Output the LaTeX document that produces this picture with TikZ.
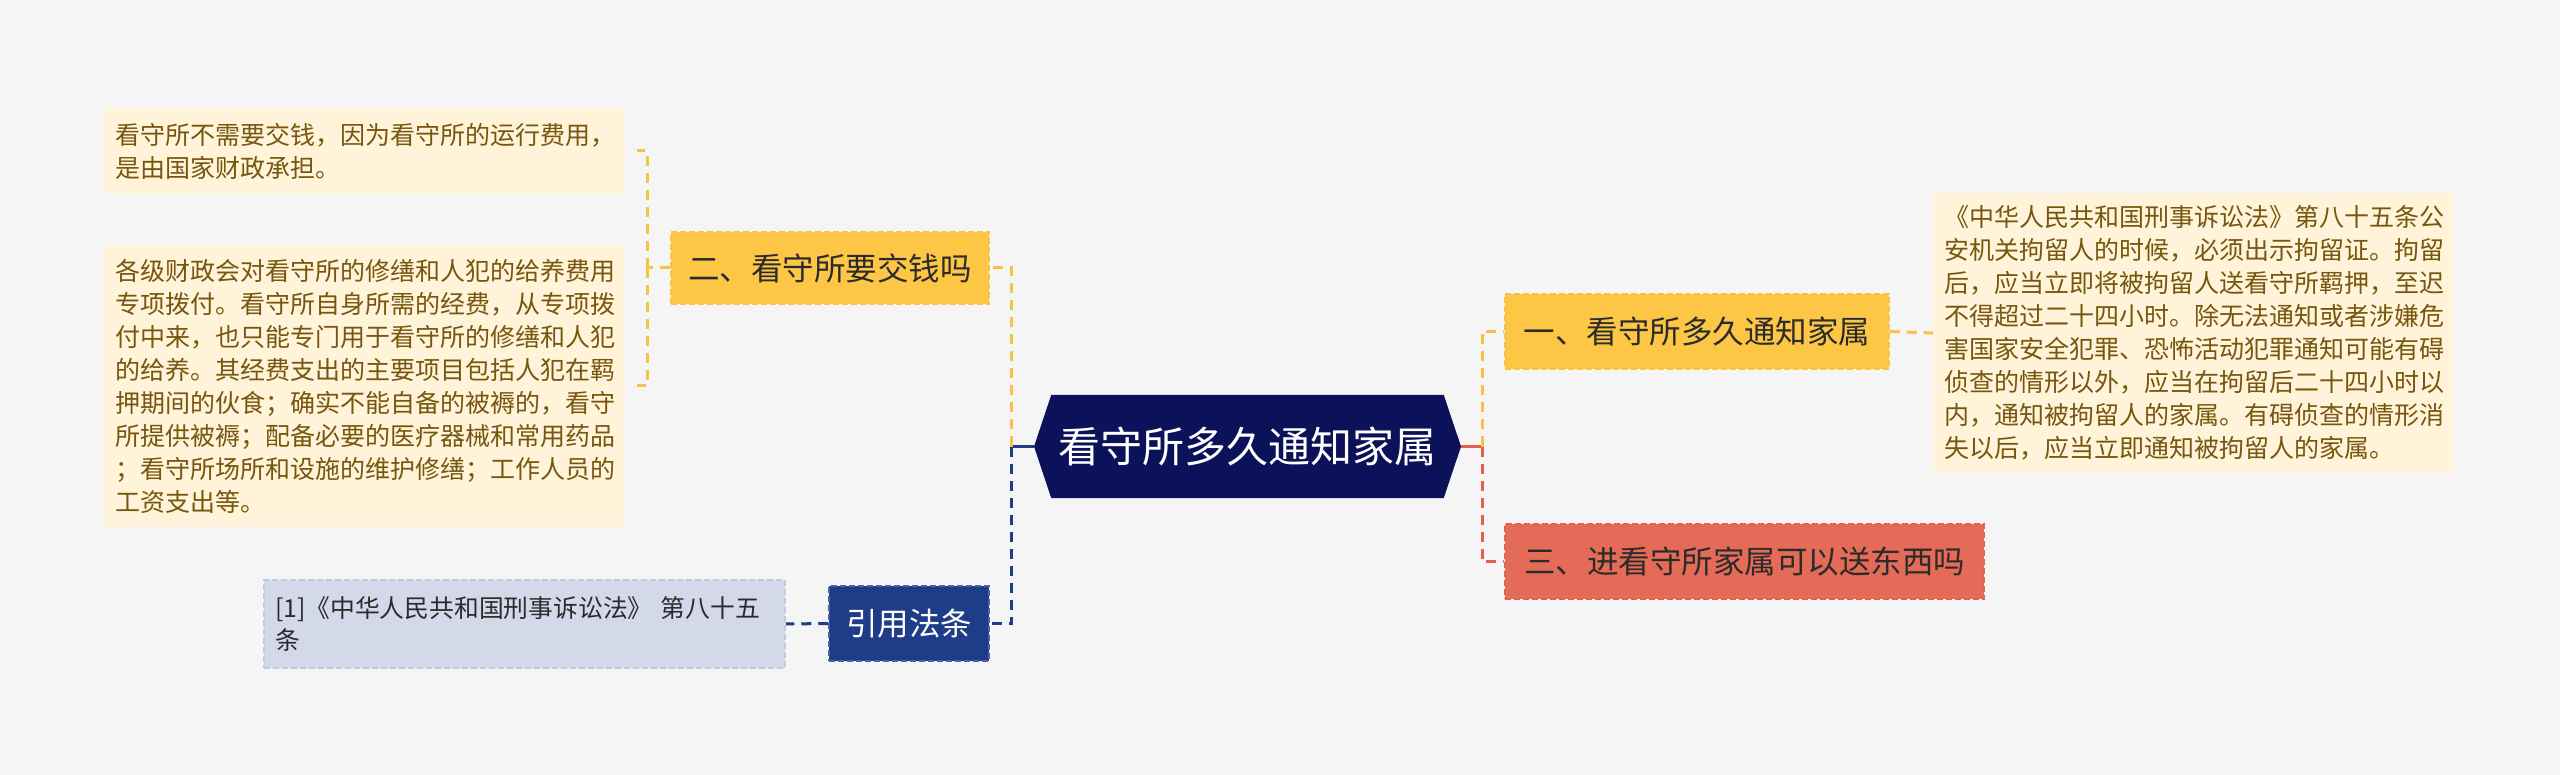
\documentclass[tikz,border=0pt]{standalone}
\usepackage{fontspec}
\setmainfont{Noto Sans CJK SC}
\usetikzlibrary{shapes.symbols,calc}
\definecolor{bg}{HTML}{F5F5F5}
\definecolor{leafbg}{HTML}{FFF4D9}
\definecolor{leaftext}{HTML}{77560E}
\definecolor{yelbg}{HTML}{FDC745}
\definecolor{yelline}{HTML}{F7C345}
\definecolor{redbg}{HTML}{E46B57}
\definecolor{redline}{HTML}{E0634F}
\definecolor{navyroot}{HTML}{0B1259}
\definecolor{bluebg}{HTML}{1F3C88}
\definecolor{refbg}{HTML}{D3D9E8}
\definecolor{refborder}{HTML}{C2CADF}
\definecolor{darktext}{HTML}{2B2B2B}
\tikzset{
  leafbox/.style={fill=leafbg, text=leaftext, font=\fontsize{25}{33}\selectfont,
    align=left, text width=499pt, inner xsep=11pt, inner ysep=0pt},
  topicbox/.style={inner sep=0pt, line width=1.5pt, dash pattern=on 6pt off 3pt,
    font=\fontsize{31.5}{36}\selectfont, minimum height=75pt},
  yline/.style={draw=yelline, line width=3pt, dash pattern=on 10pt off 7pt},
  rline/.style={draw=redline, line width=3pt, dash pattern=on 10pt off 7pt},
  nline/.style={draw=bluebg, line width=3pt, dash pattern=on 10pt off 7pt},
}
\begin{document}
\begin{tikzpicture}[x=1pt,y=-1pt]
\fill[bg] (0,0) rectangle (2560,775);
\useasboundingbox (0,0) rectangle (2560,775);

% left leaves
\node[leafbox, minimum height=86pt] (leafA) at (364.5,151)
  {看守所不需要交钱，因为看守所的运行费用，\\是由国家财政承担。};
\node[leafbox, minimum height=282pt] (leafB) at (364.5,386)
  {各级财政会对看守所的修缮和人犯的给养费用\\专项拨付。看守所自身所需的经费，从专项拨\\付中来，也只能专门用于看守所的修缮和人犯\\的给养。其经费支出的主要项目包括人犯在羁\\押期间的伙食；确实不能自备的被褥的，看守\\所提供被褥；配备必要的医疗器械和常用药品\\；看守所场所和设施的维护修缮；工作人员的\\工资支出等。};

% topic nodes
\node[topicbox, fill=yelbg, draw=yelline, text=darktext, minimum width=318pt, minimum height=72pt] (nB) at (830,268) {二、看守所要交钱吗};
\node[topicbox, fill=bluebg, draw=bluebg!80!white, text=white, minimum width=160pt] (nRef) at (909,623.5) {引用法条};
\node[fill=refbg, draw=refborder, line width=1.5pt, dash pattern=on 6pt off 3pt,
  text=darktext, font=\fontsize{24.8}{32}\selectfont, align=left, text width=499pt,
  inner xsep=11pt, inner ysep=0pt, minimum height=88pt] (refLeaf) at (524.5,624)
  {[1]《中华人民共和国刑事诉讼法》 第八十五\\条};

% root
\node[signal, signal to=west and east, signal pointer angle=143, fill=navyroot,
  text=white, font=\fontsize{42}{46}\selectfont, minimum width=427pt,
  minimum height=103pt, inner sep=0pt] (root) at (1247.5,446.5) {看守所多久通知家属};

\node[topicbox, fill=yelbg, draw=yelline, text=darktext, minimum width=384pt] (nA) at (1697,331.5) {一、看守所多久通知家属};
\node[topicbox, fill=redbg, draw=redline, text=darktext, minimum width=479pt] (nC) at (1744.5,561.5) {三、进看守所家属可以送东西吗};

\node[leafbox, minimum height=280pt] (leafR) at (2193.5,333)
  {《中华人民共和国刑事诉讼法》第八十五条公\\安机关拘留人的时候，必须出示拘留证。拘留\\后，应当立即将被拘留人送看守所羁押，至迟\\不得超过二十四小时。除无法通知或者涉嫌危\\害国家安全犯罪、恐怖活动犯罪通知可能有碍\\侦查的情形以外，应当在拘留后二十四小时以\\内，通知被拘留人的家属。有碍侦查的情形消\\失以后，应当立即通知被拘留人的家属。};

% connectors left
\draw[draw=bluebg, line width=3pt] (root.west) -- ++(-22,0) coordinate (lj);
\draw[yline] (lj) |- (nB.east);
\draw[nline] (lj) |- (nRef.east);
\draw[nline] (nRef.west) -- (refLeaf.east);
\draw[yline] (nB.west) -- ++(-23,0) coordinate (bj);
\draw[yline] (bj) |- ([xshift=12pt]leafA.east);
\draw[yline] (bj) |- ([xshift=12pt]leafB.east);

% connectors right
\draw[draw=redline, line width=3pt] (root.east) -- ++(21,0) coordinate (rj);
\draw[yline] (rj) |- (nA.west);
\draw[rline] (rj) |- (nC.west);
\draw[yline] (nA.east) -- (leafR.west);
\end{tikzpicture}
\end{document}
